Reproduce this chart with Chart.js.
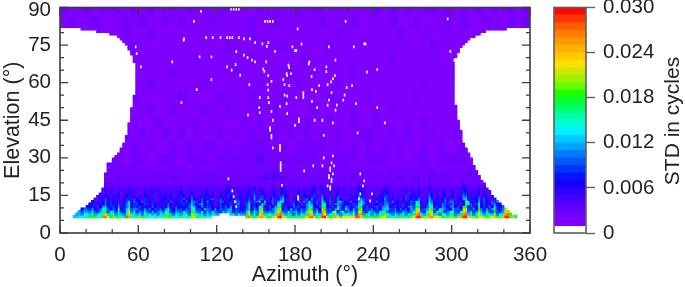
<!DOCTYPE html>
<html><head><meta charset="utf-8">
<style>
html,body{margin:0;padding:0;background:#fff;width:685px;height:287px;overflow:hidden}
canvas{position:absolute;top:0}
#map{left:0}
#bar{left:540px}
</style>
<script src="https://cdn.jsdelivr.net/npm/chart.js@4"></script>
</head><body>
<canvas id="map" width="552" height="287"></canvas>
<canvas id="bar" width="145" height="287"></canvas>
<script>
const xTickValues=[0,60,120,180,240,300,360];
const xMinorTicks=[20,40,80,100,140,160,200,220,260,280,320,340];
const yTickValues=[0,15,30,45,60,75,90];
const yMinorTicks=[5,10,20,25,35,40,50,55,65,70,80,85];
const barTickValues=[0,0.006,0.012,0.018,0.024,0.03];
const xTitle='Azimuth (°)',yTitle='Elevation (°)',barTitle='STD in cycles';

// colour band for each 0.001 step, from 0.001-0.002 up to 0.029-0.030
const levelColors=['#7f00ff','#7200ff','#5e00ff','#4800ff','#3000ff','#1800ff','#0414ff','#0034ff','#0058ff','#007cff','#00a4ff','#00ccff','#00f0ff','#00ffd8','#00ffa4','#00ff70','#00ff30','#20ff00','#60ff00','#a0f000','#d0e800','#ffe000','#ffc800','#ffb000','#ff9800','#ff7c00','#ff5c00','#ff3400','#ff0800'];

// first and last azimuth with data for elevation rows 6..81
const leftEdge=[10,12,15,17,20,22,25,27,28,30,32,33,34,34,35,35,35,35,36,36,36,37,40,41,43,44,46,47,48,49,50,50,51,52,52,52,53,53,54,54,54,55,55,55,56,56,57,57,57,58,59,59,59,59,59,59,59,59,59,59,59,58,57,57,56,55,54,53,52,50,49,46,44,38,29,17];
const rightEdge=[349,346,344,342,339,337,335,333,331,330,329,327,326,325,323,322,321,320,319,318,317,316,316,315,314,313,312,311,310,309,308,308,307,307,307,306,306,305,305,304,304,304,304,303,303,302,302,301,301,301,301,301,301,301,301,301,301,301,301,301,301,301,302,302,303,304,305,306,307,309,312,314,318,322,325,342];

// low rows, elevation 6..20, 2° columns (2-9,a=10 ... u=30 in thousandths, . = no data)
const lowRows=[
"cccccddeeg hiijgfrsni ljhgitqhgh kihgffhgfg ljhgfgjfgh lmjhghfg.. .......... .qrkikpqmj jlntuoljhi ihjkmrsljk tumikqnjnm nmotsljihj iikmnjhghi jhgiknturk lqrmnmjhjl kilqtuolkj mnkjlnljkp tuqlhecccc",
"bbcbbccdbf fdhcegkmdi gcjdbhoeic fbhdgcebgd hkdbgdcifb mkedhbgcid c....dgbec ciocfbmqdh fdjqsgcida hbfdjqmcgd sncfhpdbie gdlbqrcjfb hcfjkedbgc dgbhdiqsfc hqmdibkfce jbdirsdhbf nfcigdmbeg qsjcfbbbbb",
"aaaaabbcad cbea9dhjae d9ga8enbf9 caeb9d9bdb fia8dbaeca jhbaf9daeb a9dbec9b9a 9dmafbkoba caeoqbafbc d9caeomae9 qla9fn9dga cbfamoa9ec b9dehb9ac9 9db9ceopb9 eolaghd9bf fa9eoqbd9c ld9eb9ja9c ophb9a9999",
"99999a9a8b a9c89bfga8 b8e79dkacb 98c9b7a9b8 cf97b9a8b9 hf9a8dba7c 8b9acd7a98 8bj8c9hl98 9bdkm8a7d9 a8b9ckj9b7 mj9b8cka8e b7d9jl8a9b 8a7cdf99b7 b8a7dbln9a cljb8fdb97 dab8lna9c8 jb8c9dh98b ln9b877777",
"8888888a78 8796a7cd89 a7c68bh7a8 a6876b7986 8c86a7878b fd87c6a975 7a8b6c79a7 7ag8a7fi86 a7chj6977b 9a67bhg87a jh76a8gb7c a69bhj7a86 9a6bce6897 6a7bcahj86 ahf8a7ca8b c7a6ij8a96 h7a8b6e97a jk879a6666",
"7777777877 6785687b79 86a58bf69a 78a5896756 7b75786a89 da6bc79864 6a78695ab6 5ae6975hb6 7a5fh8665c 76a5bfc7a5 hf6a5bca97 86a5egb665 87a5bc5697 5a76a9gf75 9fd676ba59 b6857gha6a f6a75ac77a gi75766666",
"6666666765 5675465a68 758469d5a7 6a85785465 85a46795a6 ba85a6b754 5a96584a95 58b49ae6g7 8a4bde6594 6a4b8d97a4 fa5a47bd86 5a76bea544 5a67a94b65 5746a8fc54 7ea5857a4b a4657ef586 c5964a8b56 ce54564555",
"5555555655 4564354954 6473587496 5485473456 6475458a56 a6749568a3 4974765946 4785b49a53 6937ac5434 5948a6b583 c64974a643 45749c8435 4756b84546 3594786b43 5c84746948 8356bd4756 a496484b43 ba43455555",
"5555555455 4543445643 4562467453 4365473345 5463447534 8435467453 3546854355 3574a37843 4753895424 3736547843 a437359342 3545a73424 4345873534 2483564733 4a63537634 6345a93645 8374356943 9734244444",
"4444444344 3443343533 4352346342 3254352434 4352346423 6324356342 3435743244 3463843643 3642675423 2635436732 7326245243 3434764323 3234762423 2372453623 3852426523 5234874534 6263245732 7523244444",
"4444444344 3333342433 3243335432 3243343434 3242345323 4324345243 2334632433 3353734532 3532564323 2534325623 6324235233 2333653323 2324652323 3262343522 3743324423 4233763433 5253234532 6423244444",
"3333333233 3323332433 3233324323 2342333323 2332334223 3233235233 3224533323 2343524423 2432453233 2423324523 5323334232 2323543222 3323442232 2352332423 2632323323 3232652332 4342323423 5323233333",
"3333333233 3233322323 2322323423 2332323323 3232324233 2323224232 2323423232 2342423322 3322342323 2323224423 4323224232 2323432322 2323332322 2242322323 2522232323 3232542232 3232323322 4322323333",
"3333333333 2323232323 3232322322 3222323223 2323223232 3232323223 2322322323 2332423232 2322332323 2322323423 3232232223 2322423232 3222322322 2322322322 2423223222 2322432322 2322232322 3232222222",
"2333332333 3223223232 2323222323 2232323232 2223232222 3222232322 2322423222 3222323222 2322322232 2322232322 3223222322 2322323223 2222323222 2322222322 2322232322 2322322232 3222322323 2322222222"
];
// correction to the rows above, in thousandths, after comparing with the reference
const lowRowLift=[0,0,0,0,0,0,1,1,2,2,2,2,2,1,1];
// elevation 21..26, 6° columns
const midRows=[
"3333343443 3343433434 3433445453 4434433433 3334343434 3334333333",
"3333333334 3333433343 3343344543 3343343333 3433334333 3333433333",
"3333333333 3334333334 3333334433 3333433343 3333333433 3343333333",
"3333333333 3333333333 3343333433 3334333333 3334333333 3333333333",
"3333333333 3323333332 3333334333 3333333333 3233333323 3333333333",
"2222332333 2332332323 3333333323 2333233233 2332323332 3233222222"
];
// elevation 27..90 in 5° blocks, 6° columns
const highRows=[
"2222323323 3233323332 3333343333 3332333323 3323233233 3323222222",
"2222222323 2322323233 2323333232 3333232323 2323223232 2322222222",
"2222223232 3223232322 3232323323 2323232233 2232322322 3222222222",
"2222222322 2232222323 2223232232 2322322322 3222323222 2222222222",
"2222222232 2322322232 2322232322 2232222322 2232222222 2322222222",
"2222222223 2222232222 3222322232 2222322223 2222232222 2222222222",
"2222222222 2322222232 2222232222 3222232222 2222223222 2222222222",
"2222222222 2222322222 2232222223 2222222322 2222222222 3222222222",
"2222222222 2222222322 2222322222 2322222222 2232222222 2222222222",
"2222222223 2222222222 2322222232 2222322222 2222222322 2222222222",
"2222222232 2322222222 2222322222 2222232222 2223222222 2222222222",
"2322322232 3223232223 2222322322 2223222322 2232232223 2322322323",
"3223232323 2322323232 3222232322 3232232223 3232322323 2323232323"
];
// cells with no data inside the covered area (azimuth, elevation)
const holeAz=[102.6,157,159,161,163,218.8,182,297,108,131,133,135,137,112,117,123,128,130,132,137,141,145.5,149.5,95,94.7,155,159.6,158.5,164.7,178,180,181,185,206,225,233,234,135,107,116,141,143.7,147,149.4,158,175,175.5,191,190.5,211,134.5,128,131.5,138,155.7,156.5,159.5,162,173.6,174,177,195,204,204,192.7,209,210.6,207.6,235,243,116,171,172,175.6,145,159,159.5,205,193,196,198.5,223.7,219.6,218,217,104.7,153,159.5,160,172,174,181,186.4,186.4,186.4,208,206,205,193,173.6,168.5,152.6,153,162,174,197,212,211,226.7,243,93,144,163,183,183,195,201,209,180,161,249,58,58.7,62,86,299,302,168.5,168.5,168.5,169,169,169,169,170,161,161,162,162,163,202,228,187,194,201,202,209,208,207,207,210,209,206,206,208,208,205,207,207,230,233,232,230,239,129,132,133,134,135,182.4,182.4,229,237.5];
const holeEl=[84.5,84.5,84.5,84.5,84.5,84.5,81.5,85.5,88.5,89.4,89.4,89.4,89.4,78,78,78,78,78,78,78,77.5,77.5,76,77.5,77,75.5,76,74.5,72.5,74.3,72.8,72.8,75.4,74.3,74.3,75.5,75.5,72.4,70.3,70.3,71,70,69,68.3,68.3,67,66,68.3,67.5,69,67.2,66.3,65,63,65.4,64.5,62.8,60.5,63.6,62.8,63.6,65.2,66.3,64.4,62.5,61.6,62.8,60.3,64.2,65.2,61.2,61.2,59.2,58.8,59.2,59.2,57,59.2,57.2,56.5,58.8,58.8,58,55,53,57.2,54,54,52,55,54.6,54,56,55,54,56,53,51,52.5,51.6,50.5,50,48,48.5,47.6,50,51,49,51.6,50,52,47,45,45.5,44.5,45,45,44,43,42,44,74.3,71.6,66.3,68.3,72.5,69,35,34,33,28,27,26,25,19,42,41,39,38,34,39,40,24.8,26.8,26.8,30,30.8,28,26,25,26.8,23.6,23,22,21.5,20.5,18.8,18.5,17.5,23.6,20.8,18.8,15.6,15.6,21.6,16.8,14.5,12.5,10.5,14.5,13.5,13.6,12.8];

function clean(s){return s.replace(/ /g,'');}
const lowGrid=lowRows.map(clean),midGrid=midRows.map(clean),highGrid=highRows.map(clean);
function levelAt(col,el){
  let ch,lift=0;
  if(el<=20){ch=lowGrid[el-6][col];lift=lowRowLift[el-6];}
  else if(el<=26) ch=midGrid[el-21][Math.floor(col/3)];
  else ch=highGrid[Math.floor((el-27)/5)][Math.floor(col/3)];
  if(!ch||ch==='.') return null;
  return parseInt(ch,36)+lift;
}
const cellsByLevel={};
for(let el=6;el<90;el++){
  for(let col=0;col<180;col++){
    const az=col*2+1;
    if(el<=81&&(az<leftEdge[el-6]||az>rightEdge[el-6])) continue;
    const lv=levelAt(col,el);
    if(lv===null) continue;
    (cellsByLevel[lv]=cellsByLevel[lv]||[]).push({x:az,y:[el,el+1]});
  }
}
const datasets=Object.keys(cellsByLevel).map(lv=>({
  data:cellsByLevel[lv],backgroundColor:levelColors[lv-2],
  grouped:false,barPercentage:1,categoryPercentage:1,inflateAmount:0.4,borderWidth:0,
  xAxisID:'x',yAxisID:'y'
}));
datasets.push({
  data:holeAz.map((a,i)=>({x:a,y:[holeEl[i]-0.55,holeEl[i]+0.55]})),
  backgroundColor:'#ffffff',grouped:false,barThickness:1.6,borderWidth:0,inflateAmount:0,
  xAxisID:'xh',yAxisID:'y',order:-1
});

const FONT='"Liberation Sans",Arial,sans-serif';
const INK='#222222';
const mapFrame={id:'mapFrame',afterDatasetsDraw(chart){
  const {ctx,chartArea:a,scales:{x,y}}=chart;
  ctx.save();
  ctx.strokeStyle='#3c3c3c';
  const tick=(vals,len,w)=>{
    ctx.lineWidth=w;ctx.beginPath();
    vals.forEach(v=>{const p=x.getPixelForValue(v);ctx.moveTo(p,a.bottom);ctx.lineTo(p,a.bottom-len);ctx.moveTo(p,a.top);ctx.lineTo(p,a.top+len);});
    ctx.stroke();
  };
  const tickY=(vals,len,w)=>{
    ctx.lineWidth=w;ctx.beginPath();
    vals.forEach(v=>{const p=y.getPixelForValue(v);ctx.moveTo(a.left,p);ctx.lineTo(a.left+len,p);ctx.moveTo(a.right,p);ctx.lineTo(a.right-len,p);});
    ctx.stroke();
  };
  tick(xTickValues,8,1.3);tick(xMinorTicks,4,1.2);
  tickY(yTickValues,8,1.3);tickY(yMinorTicks,4,1.2);
  ctx.lineWidth=1.6;ctx.strokeRect(a.left,a.top,a.right-a.left,a.bottom-a.top);
  ctx.fillStyle=INK;ctx.font='21.5px '+FONT;ctx.textAlign='center';ctx.textBaseline='middle';
  ctx.fillText(xTitle,305,275);
  ctx.restore();
}};
new Chart(document.getElementById('map'),{
  type:'bar',
  data:{datasets},
  plugins:[mapFrame],
  options:{
    responsive:false,animation:false,events:[],
    layout:{padding:{top:7.5,right:22,left:0,bottom:0}},
    plugins:{legend:{display:false},tooltip:{enabled:false},title:{display:false}},
    scales:{
      x:{type:'linear',min:0,max:360,offset:false,
        grid:{display:false,drawTicks:false},border:{display:false},
        afterBuildTicks:s=>{s.ticks=xTickValues.map(v=>({value:v}));},
        afterFit:s=>{s.height=54;s.paddingLeft=0;s.paddingRight=0;},
        ticks:{autoSkip:false,maxRotation:0,padding:10,color:INK,font:{family:FONT,size:20.5}}
      },
      xh:{type:'linear',min:0,max:360,display:false,offset:false},
      y:{type:'linear',min:0,max:90,
        grid:{display:false,drawTicks:false},border:{display:false},
        afterBuildTicks:s=>{s.ticks=yTickValues.map(v=>({value:v}));},
        afterFit:s=>{s.width=60;s.paddingTop=0;s.paddingBottom=0;},
        ticks:{autoSkip:false,padding:9,color:INK,
          callback:v=>v===90?['','90']:String(v),
          font:c=>({family:FONT,size:20.5,lineHeight:c.tick&&c.tick.value===90?0.3:1.2})},
        title:{display:true,text:yTitle,color:INK,font:{family:FONT,size:21.5},padding:{top:0,bottom:0}}
      }
    }
  }
});

// colour bar
const barSets=levelColors.map((c,i)=>({
  data:[[(i+1)/1000,(i+2)/1000]],backgroundColor:c,grouped:false,
  barPercentage:1,categoryPercentage:1,inflateAmount:0.4,borderWidth:0
}));
const barFrame={id:'barFrame',afterDraw(chart){
  const {ctx,chartArea:a}=chart;
  ctx.save();
  ctx.strokeStyle='#5f5f5f';ctx.lineWidth=1.6;
  ctx.strokeRect(a.left,a.top,a.right-a.left,a.bottom-a.top);
  ctx.fillStyle=INK;ctx.font='21px '+FONT;ctx.textAlign='center';ctx.textBaseline='middle';
  ctx.translate(133,121);ctx.rotate(-Math.PI/2);ctx.fillText(barTitle,0,0);
  ctx.restore();
}};
new Chart(document.getElementById('bar'),{
  type:'bar',
  data:{labels:[barTitle],datasets:barSets},
  plugins:[barFrame],
  options:{
    responsive:false,animation:false,events:[],
    layout:{padding:{top:7.5,left:14,bottom:54,right:0}},
    plugins:{legend:{display:false},tooltip:{enabled:false}},
    scales:{
      x:{display:false},
      y:{type:'linear',position:'right',min:0,max:0.03,
        grid:{drawOnChartArea:false,drawTicks:true,tickLength:9,tickColor:'#5f5f5f',tickWidth:1.4},border:{display:false},
        afterBuildTicks:s=>{s.ticks=barTickValues.map(v=>({value:v}));},
        afterFit:s=>{s.width=99;s.paddingTop=0;s.paddingBottom=0;},
        ticks:{autoSkip:false,padding:8,color:INK,font:{family:FONT,size:20.5},
          callback:v=>v===0?'0':v.toFixed(3)}
      }
    }
  }
});
</script>
</body></html>
